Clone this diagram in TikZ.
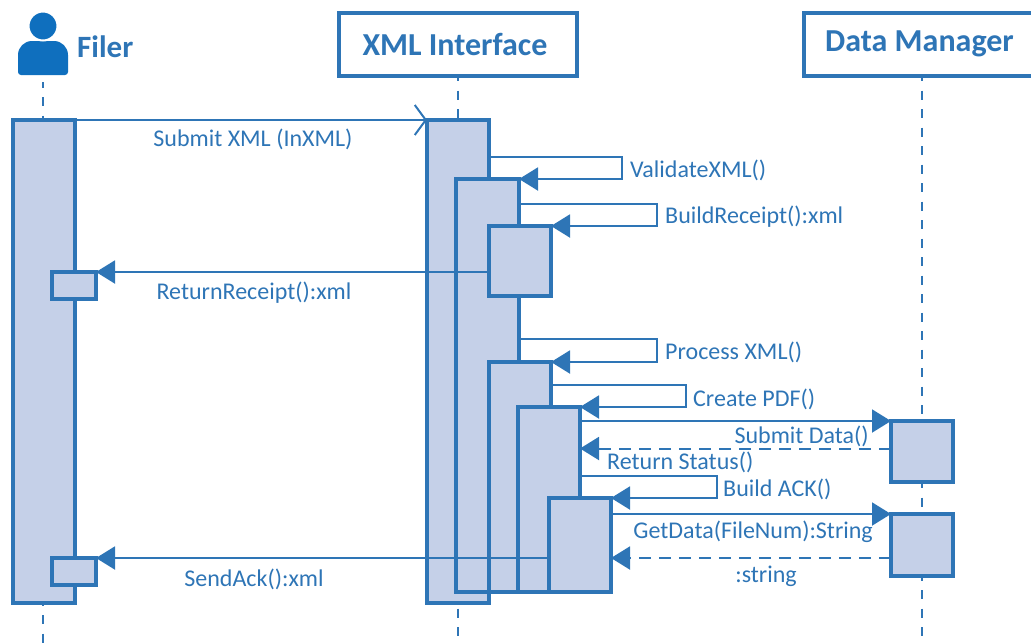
\documentclass[tikz,border=0pt]{standalone}
\usepackage{fontspec}
\setmainfont{Carlito}
\usepackage{xcolor}
\usetikzlibrary{arrows.meta, positioning}
\definecolor{umlblue}{HTML}{2E75B6}
\definecolor{umlfill}{HTML}{C5D0E8}
\definecolor{iconblue}{HTML}{0F6FBE}
\tikzset{
  header/.style={draw=umlblue,line width=4pt,fill=white,text=umlblue,font=\fontsize{32}{36}\selectfont\bfseries,
    inner sep=0pt,outer sep=0pt,minimum height=63pt},
  bar/.style={draw=umlblue,line width=4pt,fill=umlfill,inner sep=0pt,outer sep=0pt,anchor=north west},
  lifeline/.style={draw=umlblue,line width=2pt,dash pattern=on 9pt off 9.5pt,dash phase=3.5pt},
  msg/.style={color=umlblue,line width=2pt},
  tip/.style={-{Triangle[length=19pt,width=23pt]}},
  opentip/.style={-{Straight Barb[length=11pt,width=30pt]}},
  msglabel/.style={text=umlblue,font=\fontsize{24}{28}\selectfont,inner sep=0pt}
}
\begin{document}
\begin{tikzpicture}[x=1pt,y=-1pt]
    \useasboundingbox (0,0) rectangle (1031,643);
    % Add the actors
		\fill[iconblue,rounded corners=14pt]
			(18,60) -- (18,41) -- (68,41) [rounded corners=3pt] -- (68,75) -- (18,75) -- cycle;
		\coordinate (filerbody) at (43,75);
		\node[circle,fill=iconblue,draw=white,line width=2pt,
			minimum size=29pt,
			inner sep=0pt
			] (filerhead) at (43,26) {};
		\node[text=umlblue,font=\fontsize{31}{36}\selectfont\bfseries,
			inner sep=0pt,
			anchor=west
			] (filer) at (77,47) {Filer};
		\node[header,
			minimum width=238pt
			] (xmlhead) at (458,44) {XML Interface\kern6pt};
		\node[header,
			minimum width=236pt
			] (dmhead) at (922,44) {Data Manager\kern5pt};
		\coordinate (filerend) at (43,643);
		\coordinate (xmlend) at (458,643);
		\coordinate (dmend) at (922,643);
	% Add the lifelines
	\draw[lifeline]
			([yshift=-7pt]filerbody) edge[] (filerend)
			(xmlhead.south) edge[] (xmlend)
			(dmhead.south) edge[] (dmend);
	% Add the bars
		\node[bar,minimum width=62pt,minimum height=483pt] (filerbar) at (13,120) {};
		\node[bar,minimum width=44pt,minimum height=27pt] (rrbox) at (52,272) {};
		\node[bar,minimum width=44pt,minimum height=27pt] (ackbox) at (52,558) {};
		\node[bar,minimum width=62pt,minimum height=483pt] (xmla) at (427,120) {};
		\node[bar,minimum width=63pt,minimum height=413pt] (xmlb) at (456,179) {};
		\node[bar,minimum width=62pt,minimum height=70pt] (xmlc) at (489,226) {};
		\node[bar,minimum width=62pt,minimum height=230pt] (xmld) at (489,362) {};
		\node[bar,minimum width=62pt,minimum height=185pt] (xmle) at (518,407) {};
		\node[bar,minimum width=62pt,minimum height=94pt] (xmlf) at (549,498) {};
		\node[bar,minimum width=62pt,minimum height=61pt] (dma) at (891,421) {};
		\node[bar,minimum width=62pt,minimum height=62pt] (dmb) at (891,514) {};
	% Add the messages
	\draw[msg]
			(filerbar.north east) edge[opentip] (xmla.north west)
			(xmlc.west |- rrbox.north east) edge[tip] (rrbox.north east)
			(xmlf.west |- ackbox.north east) edge[tip] (ackbox.north east)
			(xmle.east |- dma.north west) edge[tip] (dma.north west)
			(xmlf.east |- dmb.north west) edge[tip] (dmb.north west);
	\draw[msg,dash pattern=on 12pt off 8pt]
			([yshift=3pt]dma.west) edge[tip] ([yshift=3pt]xmle.east |- dma.west)
			(dmb.west |- ackbox.north) edge[tip] (xmlf.east |- ackbox.north);
	% Add the self calls
	\draw[msg,tip] ([yshift=-37pt]xmla.north east) -- ++(133,0) |- (xmlb.north east);
	\draw[msg,tip] ([xshift=2pt,yshift=22pt]xmlb.north east |- xmlc.north) -- ++(136,0) |- (xmlc.north east);
	\draw[msg,tip] ([xshift=2pt,yshift=23pt]xmlb.north east |- xmld.north) -- ++(136,0) |- (xmld.north east);
	\draw[msg,tip] ([yshift=-23pt]xmld.north east) -- ++(135,0) |- (xmle.north east);
	\draw[msg,tip] ([yshift=22pt]xmle.east |- xmlf.north) -- ++(137,0) |- (xmlf.north east);
	% Add the labels
		\node[msglabel,anchor=west] (lbvalidate) at (630,170) {ValidateXML()};
		\node[msglabel,anchor=west] (lbbuild) at (665,217) {BuildReceipt():xml};
		\node[msglabel,anchor=west] (lbprocess) at (665,352) {Process XML()};
		\node[msglabel,anchor=west] (lbpdf) at (693,399) {Create PDF()};
		\node[msglabel,anchor=west] (lback) at (723,489) {Build ACK()};
		\node[msglabel] (lbsubmit) at (253,139) {Submit XML (InXML)};
		\node[msglabel] (lbreceipt) at (254,293) {ReturnReceipt():xml};
		\node[msglabel] (lbsend) at (254,579) {SendAck():xml};
		\node[msglabel,anchor=east] (lbdata) at (869,436) {Submit Data()};
		\node[msglabel,anchor=west] (lbstatus) at (607,462) {Return Status()};
		\node[msglabel,anchor=east] (lbget) at (873,532) {GetData(FileNum):String};
		\node[msglabel] (lbstring) at (766,576) {:string};
\end{tikzpicture}
\end{document}
